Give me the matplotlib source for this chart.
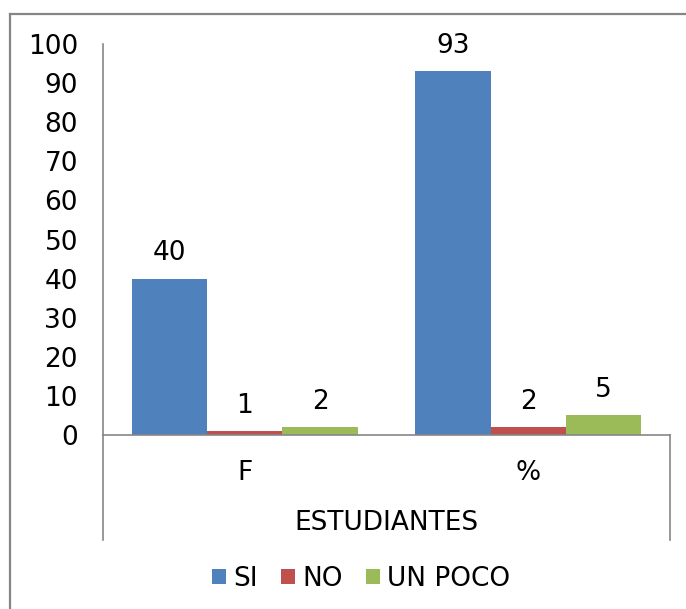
import matplotlib
matplotlib.use("Agg")
import matplotlib.pyplot as plt
import numpy as np
from matplotlib.lines import Line2D

categories = ["F", "%"]
group_title = "ESTUDIANTES"
series_names = ["SI", "NO", "UN POCO"]
si_values = [40, 93]
no_values = [1, 2]
poco_values = [2, 5]
y_ticks = [0, 10, 20, 30, 40, 50, 60, 70, 80, 90, 100]

colors = ["#4F81BD", "#C0504D", "#9BBB59"]
axis_gray = "#868686"
fs = 19

plt.rcParams["font.family"] = ["DejaVu Sans"]

fig = plt.figure(figsize=(6.86, 6.09), dpi=100)
ax = fig.add_axes([103 / 686, 1 - 435 / 609, (670 - 103) / 686, (435 - 44) / 609])

x = np.arange(len(categories))
width = 0.266
for i, (name, vals) in enumerate(zip(series_names, [si_values, no_values, poco_values])):
    bars = ax.bar(x + (i - 1) * width, vals, width, color=colors[i], label=name)
    ax.bar_label(bars, labels=[str(v) for v in vals], padding=9, fontsize=fs)

ax.set_xlim(-0.5, len(categories) - 0.5)
ax.set_ylim(0, 100)
ax.set_yticks(y_ticks)
ax.tick_params(axis="y", length=0, pad=18, labelsize=fs)
ax.set_xticks(x)
ax.set_xticklabels(categories)
ax.tick_params(axis="x", length=0, pad=18, labelsize=fs)

for side in ["top", "right"]:
    ax.spines[side].set_visible(False)
for side in ["left", "bottom"]:
    ax.spines[side].set_color(axis_gray)
    ax.spines[side].set_linewidth(1.2)

# multi-level category area below the axis
ext = -(540 - 435) / (435 - 44)
ax.add_line(Line2D([0, 0], [0, ext], transform=ax.transAxes, color=axis_gray,
                   lw=1.2, clip_on=False))
ax.add_line(Line2D([1, 1], [0, ext], transform=ax.transAxes, color=axis_gray,
                   lw=1.2, clip_on=False))
ax.text(0.5, -(523 - 435) / (435 - 44), group_title, transform=ax.transAxes,
        ha="center", va="center", fontsize=fs)

# chart frame
fig.add_artist(Line2D([10 / 686, 10 / 686], [0, 1 - 14 / 609], color=axis_gray, lw=1.6))
fig.add_artist(Line2D([10 / 686, 1], [1 - 14 / 609, 1 - 14 / 609], color=axis_gray, lw=1.6))

leg = fig.legend(loc="center", bbox_to_anchor=(361 / 686, 1 - 579 / 609), ncol=3,
                 frameon=False, fontsize=fs, handlelength=0.53, handleheight=0.53,
                 handletextpad=0.27, columnspacing=0.87, borderaxespad=0,
                 borderpad=0)

fig.savefig("out.png", dpi=100)
